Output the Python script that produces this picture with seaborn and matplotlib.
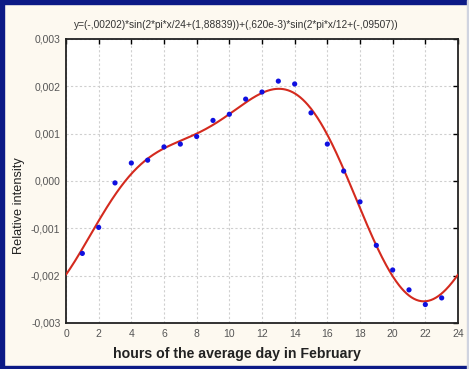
import numpy as np
import pandas as pd
import matplotlib
matplotlib.use("Agg")
import matplotlib.pyplot as plt
from matplotlib.ticker import FuncFormatter
from matplotlib.patches import Rectangle
import seaborn as sns

# Observed points (hour, relative intensity)
hours = [1, 2, 3, 4, 5, 6, 7, 8, 9, 10, 11, 12, 13, 14, 15, 16, 17, 18, 19, 20, 21, 22, 23]
intensity = [-0.00153, -0.00098, -0.00004, 0.00038, 0.00044, 0.00072, 0.00078, 0.00094,
             0.00128, 0.00141, 0.00173, 0.00188, 0.00211, 0.00205, 0.00144, 0.00078,
             0.00021, -0.00044, -0.00136, -0.00188, -0.00230, -0.00261, -0.00247]

# Fitted model coefficients as printed in the chart title
amp1, phase1, period1 = -0.00202, 1.88839, 24
amp2, phase2, period2 = 0.620e-3, -0.09507, 12

x_ticks = list(range(0, 25, 2))
y_ticks = [-0.003, -0.002, -0.001, 0.0, 0.001, 0.002, 0.003]
title_text = "y=(-,00202)*sin(2*pi*x/24+(1,88839))+(,620e-3)*sin(2*pi*x/12+(-,09507))"
x_label = "hours of the average day in February"
y_label = "Relative intensity"

df_pts = pd.DataFrame({"hour": hours, "val": intensity})
xf = np.linspace(0, 24, 481)
yf = amp1 * np.sin(2 * np.pi * xf / period1 + phase1) + amp2 * np.sin(2 * np.pi * xf / period2 + phase2)
df_fit = pd.DataFrame({"hour": xf, "val": yf})

sns.set_style("white")
plt.rcParams["font.family"] = ["Liberation Sans", "DejaVu Sans"]

W, H = 469, 369
fig = plt.figure(figsize=(W / 100, H / 100), dpi=100)
fig.patch.set_facecolor("#fdf9f0")

ax = fig.add_axes([66 / W, 1 - 323 / H, (458 - 66) / W, (323 - 39) / H])
ax.set_facecolor("white")

sns.lineplot(data=df_fit, x="hour", y="val", ax=ax, color="#d42a1e", linewidth=1.5, zorder=3)
sns.scatterplot(data=df_pts, x="hour", y="val", ax=ax, color="#1010e0", s=14,
                edgecolor="none", zorder=4)

ax.set_xlim(0, 24)
ax.set_ylim(-0.003, 0.003)
ax.set_xticks(x_ticks)
ax.set_yticks(y_ticks)
ax.yaxis.set_major_formatter(FuncFormatter(lambda v, p: f"{v:.3f}".replace(".", ",").replace("-0,000", "0,000")))
ax.grid(True, color="#cfcfcf", linestyle=(0, (2, 2)), linewidth=0.8)
ax.set_axisbelow(True)
ax.tick_params(direction="in", length=3.5, width=1, color="black", top=True, right=True,
               labelsize=7.5, labelcolor="#555555", pad=4)
for s in ax.spines.values():
    s.set_color("#222222")
    s.set_linewidth(1.3)

ax.set_xlabel(x_label, fontsize=10.2, fontweight="bold", color="#222222")
ax.set_ylabel(y_label, fontsize=9.2, color="#222222")
ax.xaxis.set_label_coords(0.436, -0.085)
ax.yaxis.set_label_coords(-0.105, 0.412)
ax.text(0.434, 1.049, title_text, transform=ax.transAxes, ha="center", va="center",
        fontsize=7.3, color="#333333")

# window-like border
navy = "#0c1a86"
fig.patches.append(Rectangle((0, 1 - 4 / H), 1, 4 / H, transform=fig.transFigure, color=navy, zorder=10))
fig.patches.append(Rectangle((0, 0), 4 / W, 1, transform=fig.transFigure, color=navy, zorder=10))
fig.patches.append(Rectangle((0, 0), 1, 3 / H, transform=fig.transFigure, color=navy, zorder=10))
fig.patches.append(Rectangle((1 - 2 / W, 0), 2 / W, 1, transform=fig.transFigure, color="#d0d4e0", zorder=10))

fig.savefig("out.png", dpi=100, facecolor=fig.get_facecolor())
